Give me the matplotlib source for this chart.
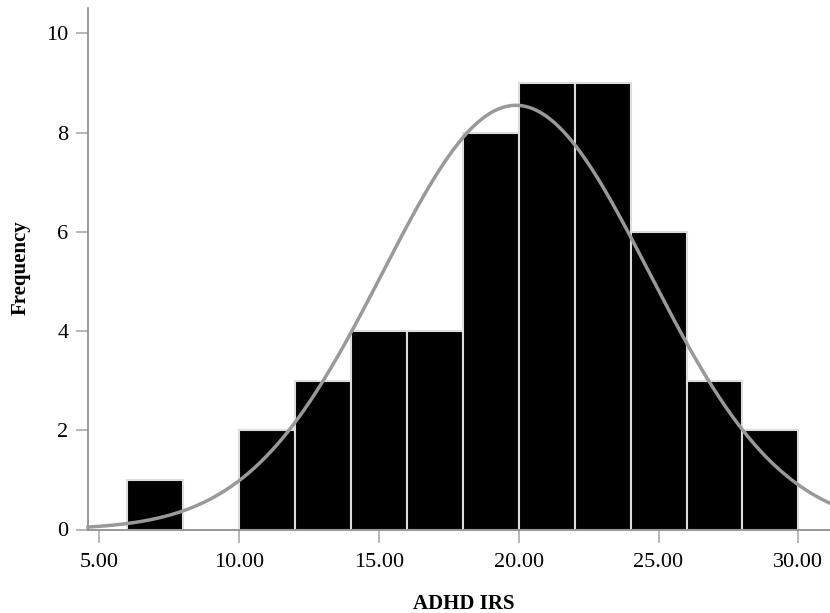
import numpy as np
import matplotlib
matplotlib.use("Agg")
import matplotlib.pyplot as plt

# Histogram data (bin edges and counts)
bin_lefts = [6, 10, 12, 14, 16, 18, 20, 22, 24, 26, 28]
bin_width = 2
counts = [1, 2, 3, 4, 4, 8, 9, 9, 6, 3, 2]

# Normal curve parameters
mean_val = 19.9
sd_val = 4.76
n_total = sum(counts)

xticks = [5, 10, 15, 20, 25, 30]
yticks = [0, 2, 4, 6, 8, 10]

plt.rcParams['font.family'] = ['Liberation Serif', 'DejaVu Serif']

fig = plt.figure(figsize=(8.3, 6.13), dpi=100)
ax = fig.add_axes([88/830, (613-529.5)/613, (830-88)/830, (529.5-7.5)/613])

ax.bar(bin_lefts, counts, width=bin_width, align='edge', color='black',
       edgecolor='#dddddd', linewidth=1.5, zorder=2)

xs = np.linspace(4.6, 31.2, 400)
ys = n_total * bin_width / (sd_val * np.sqrt(2 * np.pi)) * np.exp(-0.5 * ((xs - mean_val) / sd_val) ** 2)
ax.plot(xs, ys, color='#999999', linewidth=2.5, zorder=3, clip_on=False)

ax.set_xlim(4.6, 31.13)
ax.set_ylim(0, 10.52)
ax.set_xticks(xticks)
ax.set_xticklabels([f"{v:.2f}" for v in xticks])
ax.set_yticks(yticks)
ax.set_yticklabels([str(v) for v in yticks])

for s in ['top', 'right']:
    ax.spines[s].set_visible(False)
for s in ['left', 'bottom']:
    ax.spines[s].set_color('#888888')
    ax.spines[s].set_linewidth(1.2)

ax.tick_params(axis='both', direction='out', length=9, width=1.2, color='#aaaaaa',
               labelsize=16)
ax.tick_params(axis='x', pad=8)
ax.tick_params(axis='y', pad=5)

ax.set_xlabel('ADHD IRS', fontsize=15, fontweight='bold')
ax.set_ylabel('Frequency', fontsize=15, fontweight='bold')
ax.xaxis.set_label_coords((463.4 - 88) / 742, (529.5 - 604) / 522)
ax.xaxis.label.set_va('center')
ax.yaxis.set_label_coords((20.5 - 88) / 742, (529.5 - 267.5) / 522)
ax.yaxis.label.set_va('center')

fig.savefig('out.png', dpi=100)
